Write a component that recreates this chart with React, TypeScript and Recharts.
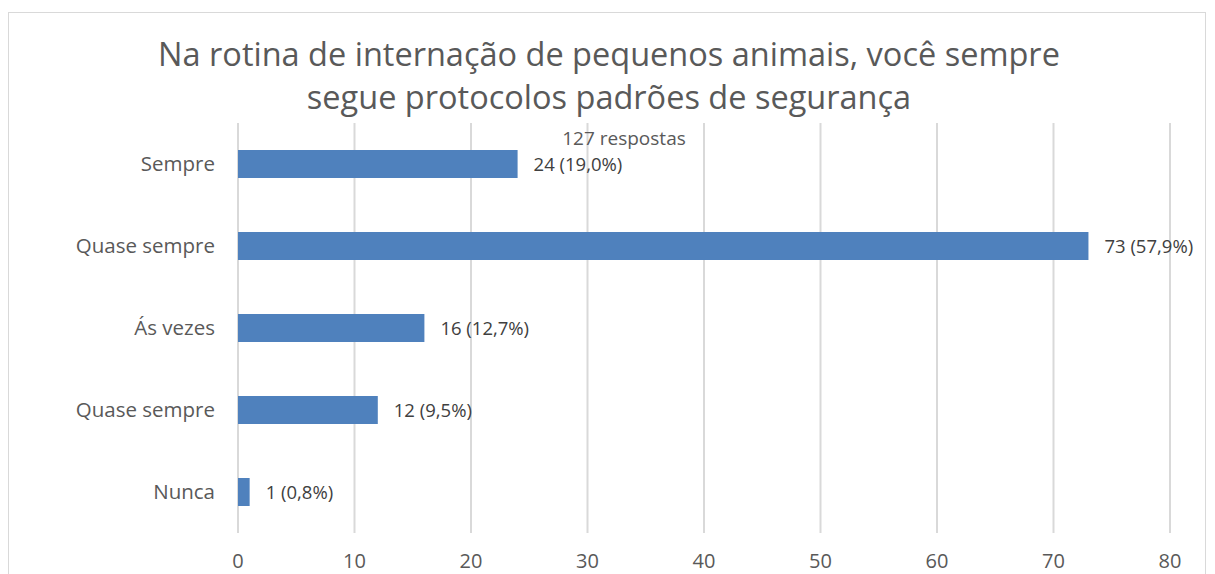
import React from "react";
import { BarChart, Bar, XAxis, YAxis, CartesianGrid, LabelList } from "recharts";

const categories = ["Sempre", "Quase sempre", "Ás vezes", "Quase sempre", "Nunca"];
const values = [24, 73, 16, 12, 1];
const valueLabels = ["24 (19,0%)", "73 (57,9%)", "16 (12,7%)", "12 (9,5%)", "1 (0,8%)"];
const xTicks = [0, 10, 20, 30, 40, 50, 60, 70, 80];
const titleLines = ["Na rotina de internação de pequenos animais, você sempre", "segue protocolos padrões de segurança"];
const subtitle = "127 respostas";

const data = categories.map((c, i) => ({ key: String(i), name: c, value: values[i], label: valueLabels[i] }));

const FONT = "'Open Sans', sans-serif";
const GREY = "#595959";

export default function App() {
  return (
    <div style={{ position: "absolute", left: 0, top: 0, width: 1215, height: 574, background: "#fff", overflow: "hidden", fontFamily: FONT }}>
      <div style={{ position: "absolute", left: 8, top: 12, width: 1198, height: 620, border: "1px solid #d9d9d9", boxSizing: "border-box" }} />
      <BarChart
        width={1215}
        height={574}
        data={data}
        layout="vertical"
        margin={{ top: 123, right: 45, bottom: 0, left: 8 }}
        style={{ position: "absolute", left: 0, top: 0 }}
      >
        <CartesianGrid horizontal={false} stroke="#d9d9d9" strokeWidth={2} />
        <XAxis
          type="number"
          domain={[0, 80]}
          ticks={xTicks}
          axisLine={false}
          tickLine={false}
          tickSize={0}
          tickMargin={21}
          tick={{ fill: GREY, fontSize: 20, fontFamily: FONT }}
          height={41}
          interval={0}
        />
        <YAxis
          type="category"
          dataKey="key"
          width={230}
          axisLine={false}
          tickLine={false}
          tickSize={0}
          tickMargin={23}
          tickFormatter={(v: string) => categories[Number(v)]}
          tick={{ fill: GREY, fontSize: 20.5, fontFamily: FONT }}
          interval={0}
        />
        <Bar dataKey="value" fill="#4f81bd" barSize={28} isAnimationActive={false}>
          <LabelList dataKey="label" position="right" offset={16} style={{ fill: "#404040", fontSize: 18.5, fontFamily: FONT }} />
        </Bar>
      </BarChart>
      <div style={{ position: "absolute", left: 0, top: 32, width: 1218, textAlign: "center", color: GREY, fontSize: 32.5, lineHeight: "43px" }}>
        {titleLines.map((t, i) => (
          <div key={i}>{t}</div>
        ))}
      </div>
      <div style={{ position: "absolute", left: 524, top: 124, width: 200, textAlign: "center", color: GREY, fontSize: 19, lineHeight: "28px" }}>
        {subtitle}
      </div>
    </div>
  );
}
